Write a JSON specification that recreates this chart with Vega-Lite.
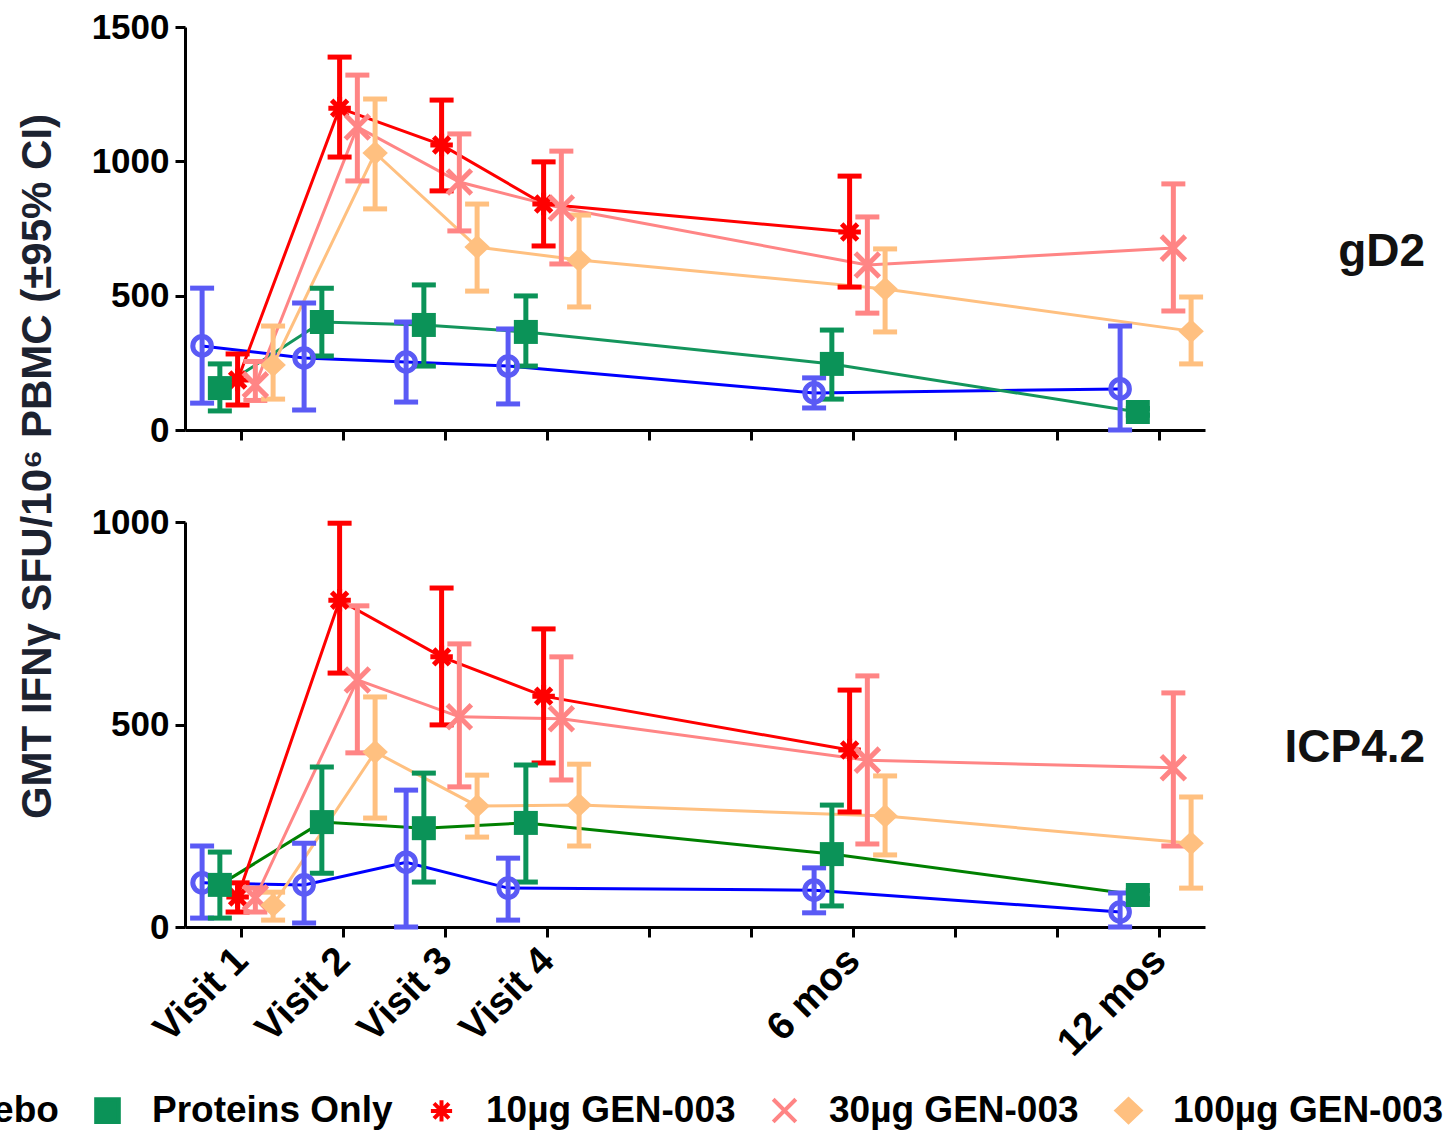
{
  "$schema": "https://vega.github.io/schema/vega-lite/v6.json",
  "autosize": {"type": "none"},
  "padding": {"left": 185, "top": 27, "right": 1271, "bottom": 1104},
  "background": "white",
  "bounds": "flush",
  "spacing": 92,
  "datasets": {
    "gd2": [
      {"t": 1, "group": "Placebo", "gmt": 313, "lo": 100, "hi": 528},
      {"t": 1, "group": "Proteins Only", "gmt": 156, "lo": 71, "hi": 246},
      {"t": 1, "group": "10µg GEN-003", "gmt": 186, "lo": 93, "hi": 283},
      {"t": 1, "group": "30µg GEN-003", "gmt": 168, "lo": 110, "hi": 255},
      {"t": 1, "group": "100µg GEN-003", "gmt": 242, "lo": 115, "hi": 387},
      {"t": 2, "group": "Placebo", "gmt": 268, "lo": 74, "hi": 473},
      {"t": 2, "group": "Proteins Only", "gmt": 402, "lo": 275, "hi": 528},
      {"t": 2, "group": "10µg GEN-003", "gmt": 1198, "lo": 1016, "hi": 1388},
      {"t": 2, "group": "30µg GEN-003", "gmt": 1128, "lo": 927, "hi": 1321},
      {"t": 2, "group": "100µg GEN-003", "gmt": 1031, "lo": 823, "hi": 1232},
      {"t": 3, "group": "Placebo", "gmt": 253, "lo": 104, "hi": 402},
      {"t": 3, "group": "Proteins Only", "gmt": 391, "lo": 238, "hi": 540},
      {"t": 3, "group": "10µg GEN-003", "gmt": 1061, "lo": 890, "hi": 1228},
      {"t": 3, "group": "30µg GEN-003", "gmt": 923, "lo": 741, "hi": 1102},
      {"t": 3, "group": "100µg GEN-003", "gmt": 681, "lo": 517, "hi": 841},
      {"t": 4, "group": "Placebo", "gmt": 238, "lo": 97, "hi": 376},
      {"t": 4, "group": "Proteins Only", "gmt": 365, "lo": 238, "hi": 499},
      {"t": 4, "group": "10µg GEN-003", "gmt": 841, "lo": 685, "hi": 998},
      {"t": 4, "group": "30µg GEN-003", "gmt": 826, "lo": 618, "hi": 1038},
      {"t": 4, "group": "100µg GEN-003", "gmt": 633, "lo": 458, "hi": 800},
      {"t": 7, "group": "Placebo", "gmt": 138, "lo": 82, "hi": 194},
      {"t": 7, "group": "Proteins Only", "gmt": 246, "lo": 115, "hi": 372},
      {"t": 7, "group": "10µg GEN-003", "gmt": 737, "lo": 532, "hi": 945},
      {"t": 7, "group": "30µg GEN-003", "gmt": 614, "lo": 435, "hi": 793},
      {"t": 7, "group": "100µg GEN-003", "gmt": 525, "lo": 365, "hi": 674},
      {"t": 10, "group": "Placebo", "gmt": 153, "lo": 0, "hi": 387},
      {"t": 10, "group": "Proteins Only", "gmt": 67, "lo": 55, "hi": 80},
      {"t": 10, "group": "30µg GEN-003", "gmt": 677, "lo": 443, "hi": 916},
      {"t": 10, "group": "100µg GEN-003", "gmt": 368, "lo": 246, "hi": 495}
    ],
    "icp": [
      {"t": 1, "group": "Placebo", "gmt": 109, "lo": 22, "hi": 200},
      {"t": 1, "group": "Proteins Only", "gmt": 104, "lo": 22, "hi": 185},
      {"t": 1, "group": "10µg GEN-003", "gmt": 74, "lo": 37, "hi": 109},
      {"t": 1, "group": "30µg GEN-003", "gmt": 72, "lo": 37, "hi": 96},
      {"t": 1, "group": "100µg GEN-003", "gmt": 54, "lo": 17, "hi": 86},
      {"t": 2, "group": "Placebo", "gmt": 104, "lo": 10, "hi": 207},
      {"t": 2, "group": "Proteins Only", "gmt": 259, "lo": 133, "hi": 395},
      {"t": 2, "group": "10µg GEN-003", "gmt": 807, "lo": 627, "hi": 997},
      {"t": 2, "group": "30µg GEN-003", "gmt": 610, "lo": 430, "hi": 793},
      {"t": 2, "group": "100µg GEN-003", "gmt": 432, "lo": 269, "hi": 568},
      {"t": 3, "group": "Placebo", "gmt": 160, "lo": 0, "hi": 338},
      {"t": 3, "group": "Proteins Only", "gmt": 244, "lo": 111, "hi": 380},
      {"t": 3, "group": "10µg GEN-003", "gmt": 667, "lo": 499, "hi": 837},
      {"t": 3, "group": "30µg GEN-003", "gmt": 519, "lo": 346, "hi": 699},
      {"t": 3, "group": "100µg GEN-003", "gmt": 299, "lo": 222, "hi": 375},
      {"t": 4, "group": "Placebo", "gmt": 96, "lo": 17, "hi": 170},
      {"t": 4, "group": "Proteins Only", "gmt": 257, "lo": 111, "hi": 400},
      {"t": 4, "group": "10µg GEN-003", "gmt": 570, "lo": 405, "hi": 736},
      {"t": 4, "group": "30µg GEN-003", "gmt": 514, "lo": 363, "hi": 667},
      {"t": 4, "group": "100µg GEN-003", "gmt": 301, "lo": 200, "hi": 402},
      {"t": 7, "group": "Placebo", "gmt": 91, "lo": 35, "hi": 146},
      {"t": 7, "group": "Proteins Only", "gmt": 180, "lo": 52, "hi": 301},
      {"t": 7, "group": "10µg GEN-003", "gmt": 437, "lo": 284, "hi": 585},
      {"t": 7, "group": "30µg GEN-003", "gmt": 412, "lo": 205, "hi": 620},
      {"t": 7, "group": "100µg GEN-003", "gmt": 274, "lo": 178, "hi": 373},
      {"t": 10, "group": "Placebo", "gmt": 37, "lo": 0, "hi": 84},
      {"t": 10, "group": "Proteins Only", "gmt": 79, "lo": 70, "hi": 90},
      {"t": 10, "group": "30µg GEN-003", "gmt": 393, "lo": 200, "hi": 578},
      {"t": 10, "group": "100µg GEN-003", "gmt": 207, "lo": 96, "hi": 321}
    ]
  },
  "resolve": {"scale": {"stroke": "independent"}},
  "vconcat": [
    {
      "width": 1020,
      "height": 403,
      "data": {"name": "gd2"},
      "encoding": {
        "x": {"field": "t", "type": "ordinal", "scale": {"type": "point", "domain": [1, 2, 3, 4, 5, 6, 7, 8, 9, 10], "padding": 0.5, "align": 0.55}, "axis": {"labels": false, "title": null, "grid": false}}
      },
      "layer": [
        {
          "mark": {"type": "line", "strokeWidth": 3},
          "encoding": {
            "xOffset": {"field": "group", "type": "nominal", "scale": {"type": "point", "domain": ["Placebo", "Proteins Only", "10µg GEN-003", "30µg GEN-003", "100µg GEN-003"], "range": [-39, 32], "padding": 0}},
            "y": {"field": "gmt", "type": "quantitative", "scale": {"domain": [0, 1500], "nice": false}, "axis": {"values": [0, 500, 1000, 1500], "format": "d", "title": "GMT IFNγ SFU/10⁶ PBMC (±95% CI)", "titleX": -135, "titleY": 439, "titleAngle": -90, "titleAlign": "center", "titleBaseline": "alphabetic", "titleFontSize": 42, "titleFontWeight": "bold", "titleFont": "Liberation Sans", "titleColor": "#1c2230", "labelPadding": 6, "labelFlush": false, "grid": false}},
            "stroke": {"field": "group", "type": "nominal", "scale": {"domain": ["Placebo", "Proteins Only", "10µg GEN-003", "30µg GEN-003", "100µg GEN-003"], "range": ["#0000ff", "#14955c", "#ff0000", "#ff8585", "#ffc080"]}, "legend": null}
          }
        },
        {
          "mark": {"type": "rule", "strokeWidth": 5},
          "encoding": {
            "xOffset": {"field": "group", "type": "nominal", "scale": {"type": "point", "domain": ["Placebo", "Proteins Only", "10µg GEN-003", "30µg GEN-003", "100µg GEN-003"], "range": [-39, 32], "padding": 0}},
            "y": {"field": "lo", "type": "quantitative"},
            "y2": {"field": "hi"},
            "color": {"field": "group", "type": "nominal", "scale": {"domain": ["Placebo", "Proteins Only", "10µg GEN-003", "30µg GEN-003", "100µg GEN-003"], "range": ["#5a5af5", "#0b9358", "#ff0000", "#ff8585", "#ffc080"]},
              "legend": {
                "title": null, "orient": "none", "legendX": -331, "legendY": 1065, "direction": "horizontal",
                "symbolSize": 800, "symbolStrokeWidth": 4, "labelFont": "Liberation Sans", "labelFontSize": 37, "labelFontWeight": "bold", "labelColor": "#000", "labelLimit": 1000, "labelOffset": 26, "columnPadding": 29, "padding": 0, "symbolOffset": 0, "symbolOpacity": 1
              }
            }
          }
        },
        {
          "mark": {"type": "tick", "orient": "horizontal", "size": 24, "thickness": 5, "opacity": 1},
          "encoding": {
            "xOffset": {"field": "group", "type": "nominal", "scale": {"type": "point", "domain": ["Placebo", "Proteins Only", "10µg GEN-003", "30µg GEN-003", "100µg GEN-003"], "range": [-39, 32], "padding": 0}},
            "y": {"field": "lo", "type": "quantitative"},
            "color": {"field": "group", "type": "nominal"}
          }
        },
        {
          "mark": {"type": "tick", "orient": "horizontal", "size": 24, "thickness": 5, "opacity": 1},
          "encoding": {
            "xOffset": {"field": "group", "type": "nominal", "scale": {"type": "point", "domain": ["Placebo", "Proteins Only", "10µg GEN-003", "30µg GEN-003", "100µg GEN-003"], "range": [-39, 32], "padding": 0}},
            "y": {"field": "hi", "type": "quantitative"},
            "color": {"field": "group", "type": "nominal"}
          }
        },
        {
          "transform": [{"filter": {"field": "group", "oneOf": ["Placebo", "10µg GEN-003", "30µg GEN-003"]}}],
          "mark": {"type": "point", "filled": false, "strokeWidth": 5, "size": 900, "opacity": 1},
          "encoding": {
            "xOffset": {"field": "group", "type": "nominal", "scale": {"type": "point", "domain": ["Placebo", "Proteins Only", "10µg GEN-003", "30µg GEN-003", "100µg GEN-003"], "range": [-39, 32], "padding": 0}},
            "y": {"field": "gmt", "type": "quantitative"},
            "color": {"field": "group", "type": "nominal"},
            "shape": {"field": "group", "type": "nominal", "scale": {"domain": ["Placebo", "Proteins Only", "10µg GEN-003", "30µg GEN-003", "100µg GEN-003"], "range": ["M-0.62,0A0.62,0.62,0,1,1,0.62,0A0.62,0.62,0,1,1,-0.62,0Z", "M-0.8,-0.8H0.8V0.8H-0.8Z", "M-0.75,0H0.75M0,-0.75V0.75M-0.53,-0.53L0.53,0.53M-0.53,0.53L0.53,-0.53", "M-0.8,-0.8L0.8,0.8M-0.8,0.8L0.8,-0.8", "M-0.85,0L0,-0.8L0.85,0L0,0.8Z"]}, "legend": null}
          }
        },
        {
          "transform": [{"filter": {"field": "group", "oneOf": ["Proteins Only", "100µg GEN-003"]}}],
          "mark": {"type": "point", "filled": true, "size": 900, "opacity": 1},
          "encoding": {
            "xOffset": {"field": "group", "type": "nominal", "scale": {"type": "point", "domain": ["Placebo", "Proteins Only", "10µg GEN-003", "30µg GEN-003", "100µg GEN-003"], "range": [-39, 32], "padding": 0}},
            "y": {"field": "gmt", "type": "quantitative"},
            "color": {"field": "group", "type": "nominal"},
            "shape": {"field": "group", "type": "nominal", "legend": null}
          }
        },
        {
          "data": {"values": [{"label": "gD2"}]},
          "mark": {"type": "text", "align": "right", "baseline": "alphabetic", "font": "Liberation Sans", "fontSize": 46, "fontWeight": "bold", "color": "#111111", "dx": 266},
          "encoding": {
            "x": {"datum": 10, "type": "ordinal"},
            "y": {"datum": 610, "type": "quantitative"},
            "text": {"field": "label"}
          }
        }
      ]
    },
    {
      "width": 1020,
      "height": 405,
      "data": {"name": "icp"},
      "encoding": {
        "x": {"field": "t", "type": "ordinal", "scale": {"type": "point", "domain": [1, 2, 3, 4, 5, 6, 7, 8, 9, 10], "padding": 0.5, "align": 0.55}, "axis": {"title": null, "grid": false, "labelExpr": "datum.value == 1 ? 'Visit 1' : datum.value == 2 ? 'Visit 2' : datum.value == 3 ? 'Visit 3' : datum.value == 4 ? 'Visit 4' : datum.value == 7 ? '6 mos' : datum.value == 10 ? '12 mos' : ''", "labelAngle": -45, "labelAlign": "right", "labelBaseline": "middle", "labelFontSize": 39, "labelPadding": 17, "labelOverlap": false, "labelFlush": false}}
      },
      "layer": [
        {
          "mark": {"type": "line", "strokeWidth": 3},
          "encoding": {
            "xOffset": {"field": "group", "type": "nominal", "scale": {"type": "point", "domain": ["Placebo", "Proteins Only", "10µg GEN-003", "30µg GEN-003", "100µg GEN-003"], "range": [-39, 32], "padding": 0}},
            "y": {"field": "gmt", "type": "quantitative", "scale": {"domain": [0, 1000], "nice": false}, "axis": {"values": [0, 500, 1000], "format": "d", "title": null, "labelPadding": 6, "labelFlush": false, "grid": false}},
            "stroke": {"field": "group", "type": "nominal", "scale": {"domain": ["Placebo", "Proteins Only", "10µg GEN-003", "30µg GEN-003", "100µg GEN-003"], "range": ["#0000ff", "#008000", "#ff0000", "#ff8585", "#ffc080"]}, "legend": null}
          }
        },
        {
          "mark": {"type": "rule", "strokeWidth": 5},
          "encoding": {
            "xOffset": {"field": "group", "type": "nominal", "scale": {"type": "point", "domain": ["Placebo", "Proteins Only", "10µg GEN-003", "30µg GEN-003", "100µg GEN-003"], "range": [-39, 32], "padding": 0}},
            "y": {"field": "lo", "type": "quantitative"},
            "y2": {"field": "hi"},
            "color": {"field": "group", "type": "nominal"}
          }
        },
        {
          "mark": {"type": "tick", "orient": "horizontal", "size": 24, "thickness": 5, "opacity": 1},
          "encoding": {
            "xOffset": {"field": "group", "type": "nominal", "scale": {"type": "point", "domain": ["Placebo", "Proteins Only", "10µg GEN-003", "30µg GEN-003", "100µg GEN-003"], "range": [-39, 32], "padding": 0}},
            "y": {"field": "lo", "type": "quantitative"},
            "color": {"field": "group", "type": "nominal"}
          }
        },
        {
          "mark": {"type": "tick", "orient": "horizontal", "size": 24, "thickness": 5, "opacity": 1},
          "encoding": {
            "xOffset": {"field": "group", "type": "nominal", "scale": {"type": "point", "domain": ["Placebo", "Proteins Only", "10µg GEN-003", "30µg GEN-003", "100µg GEN-003"], "range": [-39, 32], "padding": 0}},
            "y": {"field": "hi", "type": "quantitative"},
            "color": {"field": "group", "type": "nominal"}
          }
        },
        {
          "transform": [{"filter": {"field": "group", "oneOf": ["Placebo", "10µg GEN-003", "30µg GEN-003"]}}],
          "mark": {"type": "point", "filled": false, "strokeWidth": 5, "size": 900, "opacity": 1},
          "encoding": {
            "xOffset": {"field": "group", "type": "nominal", "scale": {"type": "point", "domain": ["Placebo", "Proteins Only", "10µg GEN-003", "30µg GEN-003", "100µg GEN-003"], "range": [-39, 32], "padding": 0}},
            "y": {"field": "gmt", "type": "quantitative"},
            "color": {"field": "group", "type": "nominal"},
            "shape": {"field": "group", "type": "nominal", "legend": null}
          }
        },
        {
          "transform": [{"filter": {"field": "group", "oneOf": ["Proteins Only", "100µg GEN-003"]}}],
          "mark": {"type": "point", "filled": true, "size": 900, "opacity": 1},
          "encoding": {
            "xOffset": {"field": "group", "type": "nominal", "scale": {"type": "point", "domain": ["Placebo", "Proteins Only", "10µg GEN-003", "30µg GEN-003", "100µg GEN-003"], "range": [-39, 32], "padding": 0}},
            "y": {"field": "gmt", "type": "quantitative"},
            "color": {"field": "group", "type": "nominal"},
            "shape": {"field": "group", "type": "nominal", "legend": null}
          }
        },
        {
          "data": {"values": [{"label": "ICP4.2"}]},
          "mark": {"type": "text", "align": "right", "baseline": "alphabetic", "font": "Liberation Sans", "fontSize": 46, "fontWeight": "bold", "color": "#111111", "dx": 266},
          "encoding": {
            "x": {"datum": 10, "type": "ordinal"},
            "y": {"datum": 407, "type": "quantitative"},
            "text": {"field": "label"}
          }
        }
      ]
    }
  ],
  "config": {
    "view": {"stroke": null},
    "axis": {"domainColor": "#000000", "domainWidth": 3, "tickColor": "#000000", "tickWidth": 3, "tickSize": 10, "labelFont": "Liberation Sans", "labelFontWeight": "bold", "labelFontSize": 35, "labelColor": "#000000", "grid": false}
  }
}
